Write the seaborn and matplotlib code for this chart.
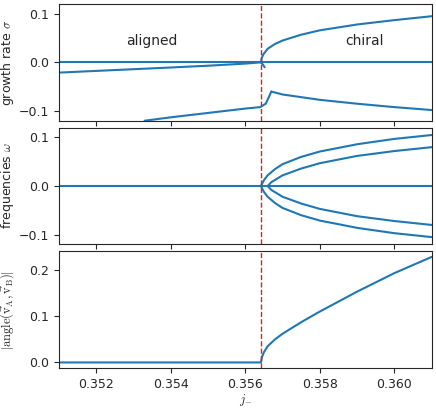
import numpy as np
import matplotlib
matplotlib.use("Agg")
import matplotlib.pyplot as plt
import seaborn as sns
import pandas as pd

sns.set_style("ticks")
plt.rcParams["mathtext.fontset"] = "cm"
plt.rcParams["font.family"] = ["DejaVu Sans"]
plt.rcParams["font.size"] = 9

jc = 0.35642
# growth rate branches
g_zero_x = [0.351, 0.361]; g_zero_y = [0.0, 0.0]
g_a_x = [0.351, 0.352, 0.353, 0.354, 0.355, 0.356, 0.3564]
g_a_y = [-0.021, -0.0175, -0.014, -0.0105, -0.0068, -0.0025, 0.0]
g_b_x = [0.3533, 0.354, 0.355, 0.356, 0.3564, 0.35655, 0.3567]
g_b_y = [-0.12, -0.113, -0.104, -0.095, -0.092, -0.085, -0.06]
g_c_x = [0.3567, 0.357, 0.358, 0.359, 0.360, 0.361]
g_c_y = [-0.06, -0.066, -0.077, -0.085, -0.092, -0.098]
g_d_x = [0.35642, 0.35644, 0.35648, 0.3566, 0.3568, 0.357, 0.3575, 0.358, 0.359, 0.360, 0.361]
g_d_y = [0.0, 0.008, 0.016, 0.028, 0.038, 0.045, 0.057, 0.066, 0.078, 0.087, 0.095]
g_e_x = [0.35642, 0.35648, 0.35652]
g_e_y = [0.0, -0.005, -0.010]

# frequencies
f_x = [0.35642, 0.3565, 0.3566, 0.3568, 0.357, 0.3575, 0.358, 0.359, 0.360, 0.361]
f_outer = [0.0, 0.012, 0.022, 0.035, 0.045, 0.060, 0.071, 0.086, 0.097, 0.105]
f_inner_x = [0.3566, 0.3567, 0.357, 0.3575, 0.358, 0.359, 0.360, 0.361]
f_inner = [0.0, 0.008, 0.022, 0.036, 0.047, 0.062, 0.072, 0.080]

# angle
a_x = [0.351, 0.3564, 0.35642, 0.35645, 0.3565, 0.3566, 0.3568, 0.357, 0.3575, 0.358, 0.359, 0.360, 0.361]
a_y = [0.0, 0.0, 0.0, 0.012, 0.022, 0.035, 0.050, 0.062, 0.087, 0.110, 0.153, 0.193, 0.228]

c = "#1f77b4"
fig, axes = plt.subplots(3, 1, figsize=(4.36, 4.08), dpi=100, sharex=True)
fig.subplots_adjust(left=0.135, right=0.99, top=0.99, bottom=0.098, hspace=0.06)

ax = axes[0]
for xs, ys in [(g_zero_x, g_zero_y), (g_a_x, g_a_y), (g_b_x, g_b_y), (g_c_x, g_c_y), (g_d_x, g_d_y), (g_e_x, g_e_y)]:
    sns.lineplot(x=xs, y=ys, ax=ax, color=c, sort=False, estimator=None)
ax.set_ylim(-0.12, 0.12)
ax.set_yticks([-0.1, 0.0, 0.1])
ax.set_ylabel(r"growth rate $\sigma$", labelpad=2)
ax.text(0.3535, 0.035, "aligned", ha="center", fontsize=10)
ax.text(0.3592, 0.035, "chiral", ha="center", fontsize=10)

ax = axes[1]
sns.lineplot(x=g_zero_x, y=g_zero_y, ax=ax, color=c)
for s in (1, -1):
    sns.lineplot(x=f_x, y=[s * v for v in f_outer], ax=ax, color=c, estimator=None)
    sns.lineplot(x=f_inner_x, y=[s * v for v in f_inner], ax=ax, color=c, estimator=None)
ax.set_ylim(-0.12, 0.12)
ax.set_yticks([-0.1, 0.0, 0.1])
ax.set_ylabel(r"frequencies $\omega$", labelpad=2)

ax = axes[2]
sns.lineplot(x=a_x, y=a_y, ax=ax, color=c, estimator=None)
ax.set_ylim(-0.012, 0.24)
ax.set_yticks([0.0, 0.1, 0.2])
ax.set_ylabel(r"$|\mathrm{angle}(\vec{\mathrm{v}}_\mathrm{A},\vec{\mathrm{v}}_\mathrm{B})|$", labelpad=2)
ax.set_xlabel(r"$j_{-}$", labelpad=1)
ax.set_xlim(0.351, 0.361)
ax.set_xticks([0.352, 0.354, 0.356, 0.358, 0.360])
ax.set_xticklabels(["0.352", "0.354", "0.356", "0.358", "0.360"])

for a in axes:
    a.axvline(jc, color="#d62728", ls="--", lw=1)
for a in axes[:2]:
    a.tick_params(labelbottom=False)
fig.align_ylabels(axes)
fig.savefig("out.png")
